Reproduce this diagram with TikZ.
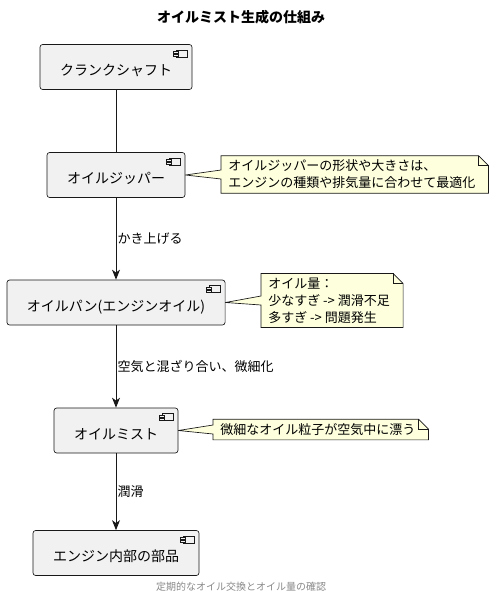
\documentclass[tikz,border=0pt]{standalone}
\usepackage{fontspec}
\setmainfont{Noto Sans CJK JP}
\usetikzlibrary{arrows.meta,backgrounds}
\definecolor{boxfill}{HTML}{F1F1F1}
\definecolor{boxline}{HTML}{181818}
\definecolor{notefill}{HTML}{FEFFDD}
\definecolor{capgray}{HTML}{888888}

% small component icon in the top right corner of a box
\newcommand{\compicon}[1]{%
  \begin{scope}[shift={(#1.north east)}, draw=boxline, line width=0.4pt]
    \draw[fill=boxfill] (-16,6) rectangle (-5,13);
    \draw[fill=boxfill] (-19,7.5) rectangle (-14,9.5);
    \draw[fill=boxfill] (-19,10.5) rectangle (-14,12.5);
  \end{scope}}

% note outline with folded corner and a wedge pointing at a box
\newcommand{\notecallout}[2]{%
  \draw[draw=boxline, line width=0.5pt, fill=notefill]
    (#1.north west) -- ([shift={(-4,0)}]#1.north east)
    -- ([shift={(6,10)}]#1.north east) -- ([shift={(6,0)}]#1.south east)
    -- (#1.south west) -- ([shift={(0,4.5)}]#1.west)
    -- (#2.east) -- ([shift={(0,-4.5)}]#1.west) -- cycle;
  \draw[draw=boxline, line width=0.5pt]
    ([shift={(-4,0)}]#1.north east) -- ++(0,10) -- ++(10,0);}

\begin{document}
\begin{tikzpicture}
  [x=0.75pt, y=-0.75pt,
   comp/.style={rectangle, rounded corners=2pt, draw=boxline, line width=0.5pt,
     fill=boxfill, minimum height=45*0.75pt, inner xsep=15pt,
     font=\fontsize{10.5}{12}\selectfont, text height=14pt, text depth=1pt},
   notetext/.style={anchor=west, align=left, inner xsep=5.25pt, inner ysep=3pt,
     font=\fontsize{9.75}{12.75}\selectfont},
   flowlabel/.style={midway, right, inner xsep=0.75pt,
     font=\fontsize{9.75}{12}\selectfont},
   flow/.style={draw=boxline, line width=0.75pt},
   arr/.style={flow, -{Stealth[length=7.5pt, width=6pt, inset=2.2pt]}}
  ]
  \useasboundingbox (0,0) rectangle (494,600);

  \node[font=\bfseries\fontsize{10.5}{12}\selectfont] (title) at (241,17) {オイルミスト生成の仕組み};

  \node[comp] (crank) at (116,67) {クランクシャフト};
  \node[comp] (zipper) at (116,175) {オイルジッパー};
  \node[comp] (pan) at (116,302.5) {オイルパン(エンジンオイル)};
  \node[comp] (mist) at (116,430.5) {オイルミスト};
  \node[comp] (parts) at (116,553) {エンジン内部の部品};

  \foreach \n in {crank,zipper,pan,mist,parts}
    \compicon{\n};

  \draw[flow] (crank) -- (zipper);
  \draw[arr] (zipper) -- node[flowlabel]{かき上げる} (pan);
  \draw[arr] (pan) -- node[flowlabel]{空気と混ざり合い、微細化} (mist);
  \draw[arr] (mist) -- node[flowlabel]{潤滑} (parts);

  % notes
  \node[notetext] (zipnote) at (221,174.5)
    {オイルジッパーの形状や大きさは、\\エンジンの種類や排気量に合わせて最適化};
  \node[notetext] (pannote) at (261,300.5)
    {オイル量：\\少なすぎ -> 潤滑不足\\多すぎ -> 問題発生};
  \node[notetext] (mistnote) at (213,429.5) {微細なオイル粒子が空気中に漂う};
  \begin{pgfonlayer}{background}
    \notecallout{zipnote}{zipper}
    \notecallout{pannote}{pan}
    \notecallout{mistnote}{mist}
  \end{pgfonlayer}

  \node[text=capgray, font=\fontsize{7.5}{9}\selectfont] (caption) at (241,587)
    {定期的なオイル交換とオイル量の確認};
\end{tikzpicture}
\end{document}
